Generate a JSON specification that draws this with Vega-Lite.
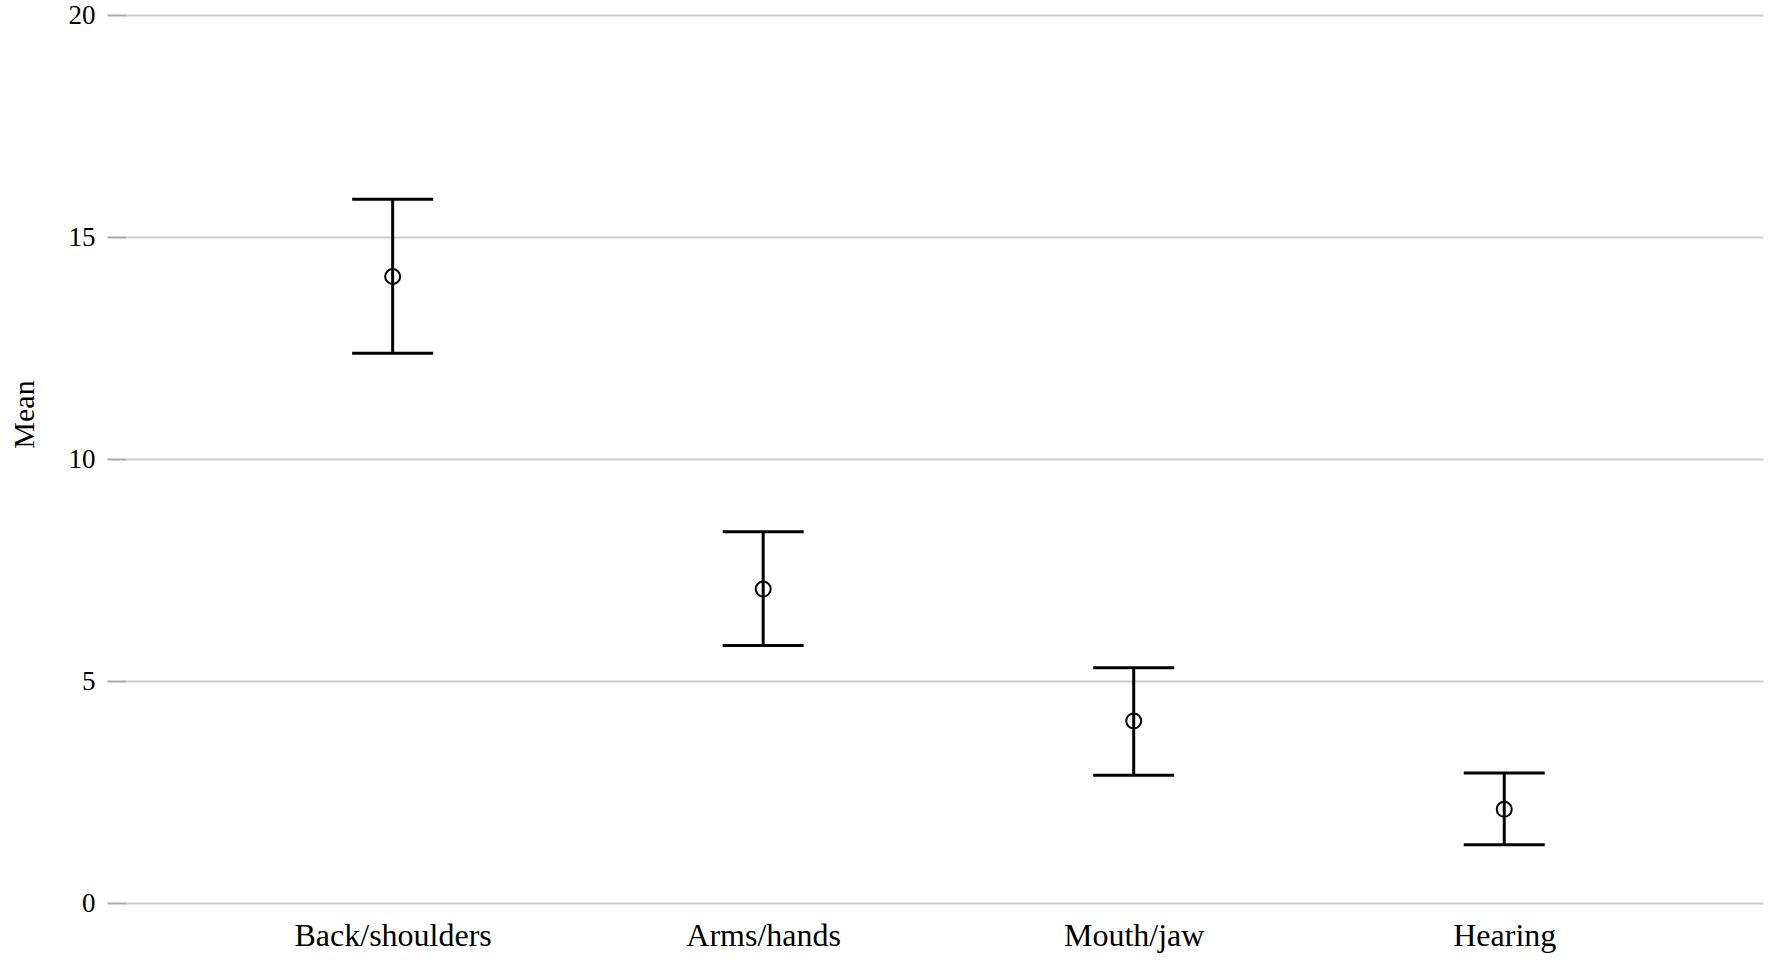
{
  "$schema": "https://vega.github.io/schema/vega-lite/v6.json",
  "width": 1637,
  "height": 888,
  "autosize": "none",
  "padding": {"left": 126, "top": 15, "right": 9, "bottom": 57},
  "background": "white",
  "config": {
    "view": {"stroke": null},
    "font": "Liberation Serif",
    "axisY": {
      "domain": false,
      "grid": true,
      "gridColor": "#cdcdcd",
      "gridWidth": 2,
      "ticks": true,
      "tickSize": 19,
      "tickColor": "#a8a8a8",
      "tickWidth": 2,
      "labelFont": "Liberation Serif",
      "labelFontSize": 27,
      "labelColor": "black",
      "labelPadding": 12,
      "titleFont": "Liberation Serif",
      "titleFontSize": 30,
      "titleFontWeight": "normal",
      "titleColor": "black",
      "titleAngle": -90,
      "titleX": -93,
      "titleY": 399,
      "titleAlign": "center",
      "titleBaseline": "alphabetic"
    },
    "axisX": {
      "domain": false,
      "ticks": false,
      "grid": false,
      "labelFont": "Liberation Serif",
      "labelFontSize": 32,
      "labelColor": "black",
      "labelPadding": 17,
      "labelAngle": 0,
      "labelLimit": 0
    }
  },
  "data": {
    "values": [
      {"region": "Back/shoulders", "mean": 14.11, "lower": 12.38, "upper": 15.85},
      {"region": "Arms/hands", "mean": 7.07, "lower": 5.80, "upper": 8.36},
      {"region": "Mouth/jaw", "mean": 4.10, "lower": 2.88, "upper": 5.30},
      {"region": "Hearing", "mean": 2.11, "lower": 1.31, "upper": 2.93}
    ]
  },
  "encoding": {
    "x": {
      "field": "region",
      "type": "nominal",
      "sort": null,
      "title": null,
      "scale": {"type": "point", "padding": 0.709, "align": 0.5075}
    }
  },
  "layer": [
    {
      "mark": {"type": "rule", "color": "black", "strokeWidth": 3},
      "encoding": {
        "y": {"field": "lower", "type": "quantitative", "title": "Mean", "scale": {"domain": [0, 20], "nice": false}, "axis": {"values": [0, 5, 10, 15, 20]}},
        "y2": {"field": "upper"}
      }
    },
    {
      "mark": {"type": "tick", "color": "black", "size": 81, "thickness": 3, "orient": "horizontal", "opacity": 1},
      "encoding": {
        "y": {"field": "lower", "type": "quantitative", "title": "Mean", "axis": {"values": [0, 5, 10, 15, 20]}}
      }
    },
    {
      "mark": {"type": "tick", "color": "black", "size": 81, "thickness": 3, "orient": "horizontal", "opacity": 1},
      "encoding": {
        "y": {"field": "upper", "type": "quantitative", "title": "Mean", "axis": {"values": [0, 5, 10, 15, 20]}}
      }
    },
    {
      "mark": {"type": "point", "shape": "circle", "filled": false, "stroke": "black", "strokeWidth": 2, "size": 225, "opacity": 1},
      "encoding": {
        "y": {"field": "mean", "type": "quantitative", "title": "Mean", "axis": {"values": [0, 5, 10, 15, 20]}}
      }
    }
  ]
}
